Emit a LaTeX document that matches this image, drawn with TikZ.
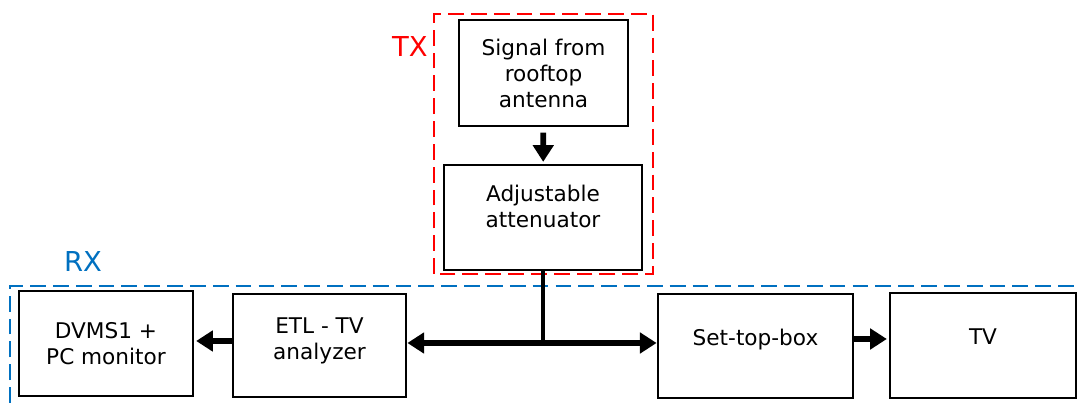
\documentclass[tikz,border=0pt]{standalone}
\usepackage{fontspec}
\setmainfont{DejaVu Sans}
\usetikzlibrary{arrows.meta,positioning}

\begin{document}
\begin{tikzpicture} [
    block/.style={draw, line width=1.6pt, align=center, minimum width=#1, minimum height=2.1cm, inner sep=2pt, font=\fontsize{12.3}{14.8}\selectfont},
    raised/.style={text depth=#1},
    bigarrow/.style={line width=3.2pt, -{Triangle[length=9.5pt,width=11.5pt]}},
    frame/.style={line width=1.6pt, dash pattern=on 9pt off 4pt},
    tag/.style={font=\fontsize{15.6}{18}\selectfont}
  ]

\definecolor{txred}{RGB}{255, 0, 0}
\definecolor{rxblue}{RGB}{0, 112, 192}

\useasboundingbox (0,0) rectangle (21.6,8.06);

% transmitter side
\draw[frame, txred] (8.68,2.58) rectangle (13.06,7.78);
\node[tag, txred] (txlabel) at (8.2,7.12) {TX};

\node[block=3.38cm, minimum height=2.12cm] (signal) at (10.87,6.6) {Signal from\\rooftop\\antenna};
\node[block=3.96cm, raised=0.46cm] (atten) at (10.86,3.71) {Adjustable\\attenuator};

% receiver side
\draw[frame, rxblue] (0.2,0) -- (0.2,2.34) -- (21.6,2.34);
\node[tag, rxblue] (rxlabel) at (1.66,2.82) {RX};

\node[block=3.48cm] (dvms) at (2.12,1.19) {DVMS1 +\\PC monitor};
\node[block=3.46cm, minimum height=2.06cm, raised=0.29cm] (etl) at (6.39,1.15) {ETL - TV\\analyzer};
\node[block=3.9cm, minimum height=2.08cm, raised=0.33cm] (stb) at (15.11,1.14) {Set-top-box};
\node[block=3.72cm, raised=0.34cm] (tv) at (19.66,1.15) {TV};

% connections
\draw[bigarrow, shorten <=3pt, shorten >=1pt] (signal) -- (atten);
\coordinate (bus) at (0,1.2);
\draw[bigarrow, shorten >=1pt] (etl.west |- 0,1.24) -- (dvms.east |- 0,1.24);
\draw[bigarrow, {Triangle[length=9.5pt,width=11.5pt]}-{Triangle[length=9.5pt,width=11.5pt]}] (etl.east |- bus) -- (stb.west |- bus);
\coordinate (junction) at (atten.south |- bus);
\draw[line width=2.8pt] (atten.south) -- (junction);
\draw[bigarrow, shorten >=1pt] (stb.east |- 0,1.28) -- (tv.west |- 0,1.28);

\end{tikzpicture}
\end{document}
